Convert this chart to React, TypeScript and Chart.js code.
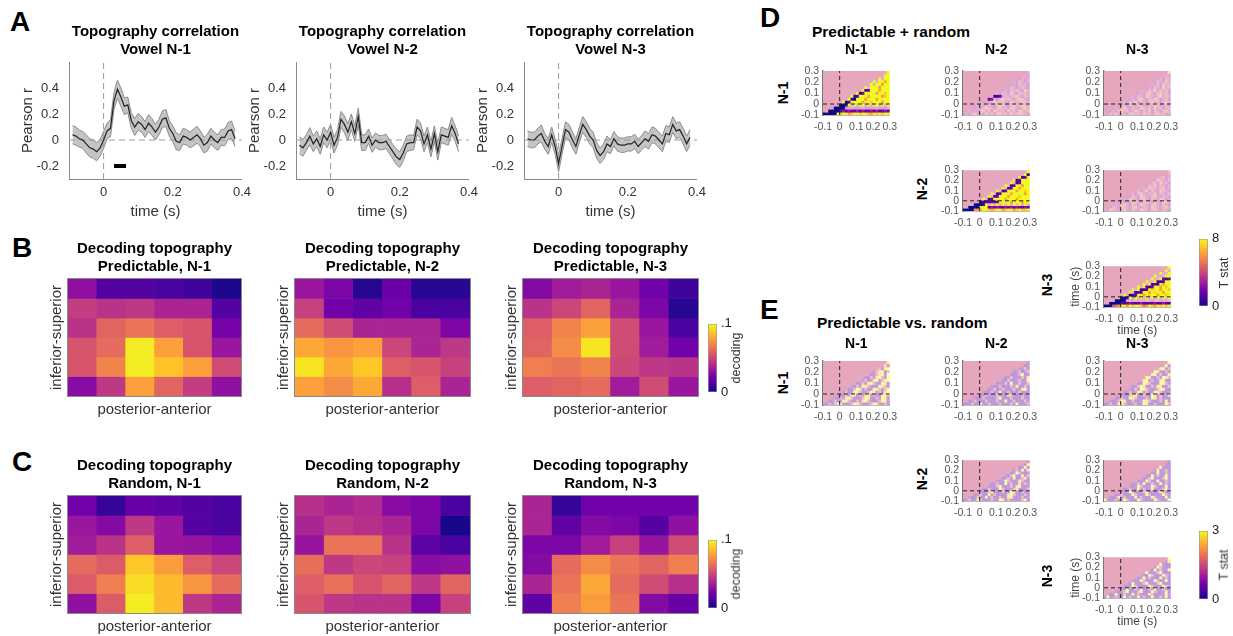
import React, { useEffect, useRef } from "react";
import { Chart, registerables } from "chart.js";

Chart.register(...registerables);

const FONT = "'Liberation Sans', Arial, Helvetica, sans-serif";
Chart.defaults.font.family = FONT;
Chart.defaults.color = "#333";

// ---------------- Panel A : topography correlation ----------------
const TIME = [
  -0.09, -0.08, -0.07, -0.06, -0.05, -0.04, -0.03, -0.02, -0.01, 0,
  0.01, 0.02, 0.03, 0.04, 0.05, 0.06, 0.07, 0.08, 0.09, 0.1,
  0.11, 0.12, 0.13, 0.14, 0.15, 0.16, 0.17, 0.18, 0.19, 0.2,
  0.21, 0.22, 0.23, 0.24, 0.25, 0.26, 0.27, 0.28, 0.29, 0.3,
  0.31, 0.32, 0.33, 0.34, 0.35, 0.36, 0.37, 0.38,
];
const R_N1 = [
  0.04, 0.03, 0.01, 0.0, -0.03, -0.06, -0.07, -0.09, -0.06, 0.0,
  0.07, 0.09, 0.3, 0.39, 0.33, 0.26, 0.27, 0.15, 0.1, 0.14,
  0.12, 0.08, 0.13, 0.1, 0.06, 0.1, 0.16, 0.17, 0.09, 0.05,
  -0.01, -0.02, 0.03, 0.02, 0.0, 0.02, 0.04, 0.01, -0.04, -0.02,
  0.03, 0.0, -0.02, 0.02, 0.02, 0.07, 0.08, 0.01,
];
const SEM_N1 = [
  0.07, 0.07, 0.065, 0.065, 0.07, 0.07, 0.07, 0.07, 0.065, 0.065,
  0.06, 0.065, 0.065, 0.07, 0.07, 0.065, 0.06, 0.06, 0.065, 0.065,
  0.06, 0.06, 0.065, 0.065, 0.06, 0.06, 0.065, 0.065, 0.06, 0.06,
  0.065, 0.06, 0.06, 0.06, 0.06, 0.065, 0.065, 0.06, 0.06, 0.065,
  0.06, 0.06, 0.06, 0.06, 0.065, 0.065, 0.065, 0.06,
];
const R_N2 = [
  -0.04, -0.06, -0.02, 0.03, -0.03, 0.01, -0.05, 0.04, 0.0, 0.06,
  -0.04, 0.02, 0.16, 0.12, 0.06, 0.14, 0.05, 0.18, -0.02, -0.02,
  0.03, -0.04, 0.0, -0.02, -0.02, -0.01, -0.05, -0.09, -0.13, -0.15,
  -0.1, -0.03, -0.02, -0.02, 0.1, 0.07, -0.03, 0.04, -0.07, 0.05,
  -0.09, 0.04, 0.03, 0.02, 0.11, 0.05, -0.03, null,
];
const SEM_N2 = [
  0.065, 0.065, 0.06, 0.065, 0.06, 0.06, 0.06, 0.06, 0.06, 0.06,
  0.06, 0.06, 0.06, 0.065, 0.065, 0.06, 0.06, 0.065, 0.06, 0.06,
  0.055, 0.055, 0.055, 0.055, 0.055, 0.055, 0.055, 0.055, 0.06, 0.06,
  0.06, 0.06, 0.06, 0.055, 0.06, 0.06, 0.06, 0.06, 0.06, 0.06,
  0.065, 0.06, 0.06, 0.06, 0.065, 0.06, 0.06, 0.06,
];
const R_N3 = [
  0.01, 0.0, 0.0, 0.03, 0.05, -0.01, -0.05, 0.04, -0.05, -0.18,
  -0.05, 0.08, 0.06, 0.0, -0.05, 0.04, 0.12, 0.08, 0.03, 0.0,
  -0.08, -0.12, -0.09, -0.03, -0.05, 0.01, -0.03, -0.04, -0.04, -0.03,
  -0.03, -0.01, -0.05, -0.02, 0.01, -0.01, 0.04, 0.03, 0.0, -0.03,
  0.05, 0.04, 0.12, 0.07, 0.08, 0.03, -0.03, 0.02,
];
const SEM_N3 = [
  0.06, 0.06, 0.06, 0.06, 0.065, 0.06, 0.06, 0.06, 0.06, 0.065,
  0.06, 0.06, 0.06, 0.06, 0.06, 0.06, 0.06, 0.06, 0.06, 0.06,
  0.06, 0.06, 0.06, 0.06, 0.055, 0.055, 0.055, 0.055, 0.055, 0.055,
  0.055, 0.055, 0.055, 0.055, 0.06, 0.06, 0.06, 0.06, 0.06, 0.06,
  0.06, 0.06, 0.06, 0.06, 0.06, 0.06, 0.06, 0.06,
];
const SIG_N1 = [0.03, 0.065]; // significance bar (s)
const SIG_LEVEL = -0.2;
const A_X_TICKS = [0, 0.2, 0.4];
const A_Y_TICKS = [-0.2, 0, 0.2, 0.4];

// ---------------- Panels B, C : decoding topography (6 x 6) ----------------
const DECODING_MAX = 0.1;
const B_N1 = [
  [0.03, 0.015, 0.015, 0.012, 0.01, 0.003],
  [0.047, 0.043, 0.045, 0.038, 0.038, 0.015],
  [0.043, 0.06, 0.065, 0.058, 0.055, 0.023],
  [0.055, 0.062, 0.097, 0.078, 0.055, 0.033],
  [0.055, 0.07, 0.097, 0.087, 0.078, 0.052],
  [0.028, 0.045, 0.078, 0.06, 0.047, 0.03],
];
const B_N2 = [
  [0.033, 0.025, 0.005, 0.02, 0.005, 0.005],
  [0.048, 0.022, 0.018, 0.022, 0.012, 0.012],
  [0.062, 0.052, 0.038, 0.038, 0.038, 0.025],
  [0.08, 0.075, 0.078, 0.05, 0.038, 0.045],
  [0.095, 0.08, 0.088, 0.058, 0.055, 0.048],
  [0.078, 0.072, 0.08, 0.042, 0.058, 0.038],
];
const B_N3 = [
  [0.027, 0.035, 0.038, 0.033, 0.022, 0.01],
  [0.043, 0.05, 0.06, 0.038, 0.025, 0.005],
  [0.058, 0.07, 0.078, 0.052, 0.033, 0.012],
  [0.06, 0.072, 0.095, 0.052, 0.035, 0.022],
  [0.068, 0.065, 0.07, 0.05, 0.045, 0.043],
  [0.058, 0.06, 0.062, 0.035, 0.052, 0.033],
];
const C_N1 = [
  [0.022, 0.008, 0.02, 0.018, 0.015, 0.012],
  [0.033, 0.027, 0.045, 0.033, 0.015, 0.012],
  [0.035, 0.043, 0.058, 0.033, 0.032, 0.028],
  [0.062, 0.057, 0.088, 0.077, 0.058, 0.05],
  [0.057, 0.068, 0.093, 0.085, 0.075, 0.062],
  [0.03, 0.057, 0.097, 0.085, 0.045, 0.038],
];
const C_N2 = [
  [0.042, 0.038, 0.04, 0.028, 0.025, 0.012],
  [0.038, 0.045, 0.042, 0.038, 0.025, 0.002],
  [0.032, 0.065, 0.065, 0.043, 0.017, 0.012],
  [0.063, 0.045, 0.05, 0.048, 0.028, 0.03],
  [0.058, 0.064, 0.055, 0.06, 0.045, 0.06],
  [0.055, 0.045, 0.043, 0.043, 0.025, 0.048],
];
const C_N3 = [
  [0.038, 0.008, 0.022, 0.022, 0.022, 0.022],
  [0.038, 0.018, 0.027, 0.025, 0.015, 0.03],
  [0.025, 0.025, 0.035, 0.048, 0.032, 0.052],
  [0.027, 0.062, 0.072, 0.065, 0.06, 0.068],
  [0.038, 0.065, 0.08, 0.062, 0.052, 0.042],
  [0.018, 0.068, 0.077, 0.065, 0.027, 0.02],
];

// ---------------- Panels D, E : time x time T-stat matrices (24 x 15 bins) ----------------
// '.' = masked, '0'-'9' = significant T level (x T_MAX/9), 'a'-'j' = non-significant T level
const D_T_MAX = 8;
const E_T_MAX = 3;
const MAT_RANGE = [-0.1, 0.3];
const MAT_TICKS = [-0.1, 0, 0.1, 0.2, 0.3];

const D_N1_N1 = [
  ".......................9",
  "......................99",
  "....................9e99",
  "..................9e9979",
  ".................9e99799",
  "...............9e9997999",
  "..............9129997999",
  "............912999979989",
  "..........91199979999789",
  ".........910999799979999",
  ".......90199997998999799",
  "......0019e9e99e9e99e9e9",
  "....0000ddedddeddddeddde",
  "..0000232322323223232232",
  "000009899789989987989899",
];
const D_N1_N2 = [
  ".......................e",
  "......................ed",
  "....................dede",
  "..................edfede",
  ".................dedfeed",
  "...............edfedefed",
  "..............dedfefedge",
  "............edfedgedfefd",
  "..........e112dfeefgedfe",
  ".........23edfgefedfgfed",
  ".......dedfgeffedgfefgfe",
  "......edfeedfgfedfgefgfe",
  "....dedfgfedfgefdgfedfge",
  "..ededfgefdgfefdgefdgfef",
  "dedfgefdgefdfgefdgefgfed",
];
const D_N1_N3 = [
  ".......................h",
  "......................ed",
  "....................edfe",
  "..................dfedge",
  ".................edfdgef",
  "...............dedfedgef",
  "..............edfegdfefd",
  "............dedfgedfgefd",
  "..........edfedgfedfgefe",
  ".........dedfgedfegfdefd",
  ".......edfegdfedfgefdfge",
  "......dedfedgfedfegfdefd",
  "....edfgedfedgfefdgefdef",
  "..dedfgefdegfdfegdfedfge",
  "edfegdfedgfefdgefdfgefde",
];
const D_N2_N2 = [
  ".......................9",
  "......................91",
  "....................9129",
  "..................912999",
  ".................9e12999",
  "...............9e1299799",
  "..............9e12997999",
  "............9e1299979989",
  "..........9e129997999979",
  ".........9e1299979998999",
  ".......9e129999799979999",
  "......012222299997999799",
  "....00019d9e9d9e9d9e9d9e",
  "..0000999232322323232232",
  "000077899878997899789889",
];
const D_N2_N3 = [
  ".......................f",
  "......................de",
  "....................efde",
  "..................dgfedf",
  ".................efdgefd",
  "...............dfegdfede",
  "..............edgfedfgde",
  "............fdegdfedgfed",
  "..........edfgedfegdfedf",
  ".........dfedgfedfgedfed",
  ".......edgfedfgedfedgfde",
  "......fdedgfedfgedfedgfe",
  "....edfgedfedgfedfgedfed",
  "..dfedgfedfgedfedgfedfge",
  "edgfedfgedfedgfedfgedfed",
];
const D_N3_N3 = [
  ".......................9",
  "......................9e",
  "....................9ee9",
  "..................9ede99",
  ".................9ee9212",
  "...............9ee911299",
  "..............9e91219799",
  "............9e9212997989",
  "..........9e911298997998",
  ".........9e1219979899799",
  ".......9e012997989979989",
  "......0019e9f9e9e9d9e9f9",
  "....0000dedfdedfedefdedf",
  "..0000212321232122312321",
  "000567997989986798798989",
];
const E_N1_N1 = [
  ".......................i",
  "......................ic",
  "....................fcij",
  "..................cfijcf",
  ".................bcfijcj",
  "...............cbfcijfcj",
  "..............cfbcijcfij",
  "............bcfcijfcbjic",
  "..........cbfcjifcbcjifc",
  ".........bcfjicfbcjifcfj",
  ".......cfbcjifcbfjicfbij",
  "......bcfcjibfcijcfbcjif",
  "....cbfcijfcbcfjicbfcjic",
  "..bcfbcjifcbfcijfcbcfjic",
  "cbfcfijcbcfjifcbcfjicbfc",
];
const E_N1_N2 = [
  ".......................c",
  "......................bc",
  "....................cbfc",
  "..................bcfbcf",
  ".................cbcfjbc",
  "...............bcfbcbfci",
  "..............cbfcbcfbcj",
  "............bcbfcjbcfbcf",
  "..........cbcfbcbfcjcbfc",
  ".........bcfbcfcbcfbcijc",
  ".......cbcfbcjbcfbcbfcbc",
  "......bcfcbcfbcbifcbcfbc",
  "....cbcfbcbcfjcbcfbcbfcb",
  "..bcfbcbfcbcfbcjbcfbcbfc",
  "cbcfbcjcbfcbcfbcbfcjcbcf",
];
const E_N1_N3 = [
  ".......................j",
  "......................jc",
  "....................ijcf",
  "..................jicbfc",
  ".................ijcfbci",
  "...............jicbfcjif",
  "..............ijcfbcijcb",
  "............cbjifcbcjifc",
  "..........bcfjicbfcjicbf",
  ".........cbfcjifcbcfjicb",
  ".......bcfbcjicfbcjifcbc",
  "......cbcfijcbfcbjicfbcj",
  "....bcfcbjifcbcfbjicfcbc",
  "..cbcfjicbfcbcjifcbcfbjc",
  "bcfbcjifcbcfbcjicbfcbcjf",
];
const E_N2_N2 = [
  ".......................c",
  "......................cj",
  "....................bcjc",
  "..................cfbjci",
  ".................bcjfcbc",
  "...............cbfjcbicf",
  "..............bcfcjbcfic",
  "............cbcjfcbcifcb",
  "..........bcfcbjcfbcicfc",
  ".........cbcfjcbcfbijcbc",
  ".......bcfcbcjfcbcficbcf",
  "......cbcfjcbcfbcjicbfcb",
  "....bcfbcjcfbcbcijfcbcfc",
  "..cbcfcbjcfbcfbcijcbcfbc",
  "bcfbcjfcbcfcbjicfbcbcfjc",
];
const E_N2_N3 = [
  ".......................b",
  "......................cb",
  "....................jcbc",
  "..................cjbcfc",
  ".................bcjcbfc",
  "...............cbjcfbcjc",
  "..............bcfjcbcfjc",
  "............cbcjfbcjcbfc",
  "..........bcfcjbcfcbjcfc",
  ".........cbcjfcbcjfcbcjb",
  ".......bcfcbjcfbcjcbcfjc",
  "......cbcjfcbcfjbcbcjfcb",
  "....bcfcbcjfcbcjfbcbcjfc",
  "..cbcjcfbcbjcfcbcjfbcbjc",
  "jcbcfbcjfcbcjfcbcbjfcbcj",
];
const E_N3_N3 = [
  ".......................j",
  "......................ci",
  "....................jcbc",
  "..................cjfcbc",
  ".................bjcfcbj",
  "...............jcbcfjcbc",
  "..............cbjfcbcjfc",
  "............bcjcfbcbjcfb",
  "..........cbcjfcbcjfbcjc",
  ".........bjcbcfjcbcfjcbc",
  ".......cbcjfbcbcjfcbcjfc",
  "......bcjcbfcjbcfcjbcfcb",
  "....cbcfjcbcfjcbcjfcbcjc",
  "..bcjcbfcbjcfcbcjfbcbcjc",
  "cjbcfcbjcfbcjcfbcjcbfcjc",
];

// ---------------- colour map ----------------
const PLASMA = ["#0d0887", "#46039f", "#7201a8", "#9c179e", "#bd3786", "#d8576b", "#ed7953", "#fb9f3a", "#fdca26", "#f0f921"];
const hex = (h: string) => [1, 3, 5].map((i) => parseInt(h.slice(i, i + 2), 16));
const PLASMA_RGB = PLASMA.map(hex);
function plasmaRgb(t: number) {
  const v = Math.max(0, Math.min(1, t)) * (PLASMA_RGB.length - 1);
  const i = Math.min(Math.floor(v), PLASMA_RGB.length - 2);
  const f = v - i;
  return PLASMA_RGB[i].map((c, k) => c + (PLASMA_RGB[i + 1][k] - c) * f);
}
const rgb = (c: number[]) => `rgb(${c.map((x) => Math.round(x)).join(",")})`;
const plasma = (t: number) => rgb(plasmaRgb(t));
const fade = (t: number, a: number) => rgb(plasmaRgb(t).map((c) => c + (255 - c) * a));
const MASK_COLOR = fade(0.5, 0.52);
const NONSIG_FADE = 0.6;
function cellColor(ch: string) {
  if (ch === ".") return MASK_COLOR;
  const d = "0123456789".indexOf(ch);
  if (d >= 0) return plasma(d / 9);
  const l = "abcdefghij".indexOf(ch);
  return fade(l / 9, NONSIG_FADE);
}

// ---------------- helpers ----------------
const setTicks = (vals: number[]) => (axis: any) => {
  axis.ticks = vals.map((v) => ({ value: v }));
};
const fmt = (v: any) => (Math.abs(v) < 1e-9 ? "0" : String(Math.round(v * 100) / 100));

const framePlugin = (color: string) => ({
  id: "frame",
  afterDatasetsDraw(chart: any) {
    const { ctx, chartArea: a } = chart;
    ctx.save();
    ctx.strokeStyle = color;
    ctx.lineWidth = 1;
    ctx.strokeRect(Math.round(a.left) - 0.5, Math.round(a.top) - 0.5, Math.round(a.right - a.left) + 1, Math.round(a.bottom - a.top) + 1);
    ctx.restore();
  },
});

type Box = { left: number; top: number; width: number; height: number };

function ChartCanvas({ box, make }: { box: Box; make: () => any }) {
  const ref = useRef<HTMLCanvasElement | null>(null);
  useEffect(() => {
    if (!ref.current) return;
    const chart = new Chart(ref.current, make());
    return () => chart.destroy();
  }, []);
  return (
    <canvas
      ref={ref}
      width={box.width}
      height={box.height}
      style={{ position: "absolute", left: box.left, top: box.top, width: box.width, height: box.height }}
    />
  );
}

const baseOpts = (padRight: number, padTop = 0) => ({
  responsive: false,
  animation: false,
  events: [],
  layout: { padding: { left: 0, right: padRight, top: padTop, bottom: 0 } },
});

// ---------------- Panel A chart ----------------
function LineChart({ plotLeft, title, mean, sem, sig }: any) {
  const yAxisW = 50, xAxisH = 42, titleH = 39, padR = 14, plotW = 174, plotH = 117;
  const box = { left: plotLeft - yAxisW, top: 23, width: yAxisW + plotW + padR, height: titleH + plotH + xAxisH };
  const make = () => {
    const pts = (k: number) => TIME.map((t, i) => ({ x: t, y: mean[i] == null ? null : mean[i] + k * sem[i] }));
    return {
      type: "scatter",
      data: {
        datasets: [
          { data: pts(0), borderColor: "#222", borderWidth: 1.2, pointRadius: 0, showLine: true, order: 0 },
          {
            data: sig ? [{ x: sig[0], y: SIG_LEVEL }, { x: sig[1], y: SIG_LEVEL }] : [],
            borderColor: "#000", borderWidth: 4, pointRadius: 0, showLine: true, order: 0, borderCapStyle: "butt",
          },
          { data: [{ x: -0.1, y: 0 }, { x: 0.4, y: 0 }], borderColor: "#9a9a9a", borderDash: [6, 4], borderWidth: 1, pointRadius: 0, showLine: true, order: 1 },
          { data: [{ x: 0, y: -0.3 }, { x: 0, y: 0.6 }], borderColor: "#9a9a9a", borderDash: [6, 4], borderWidth: 1, pointRadius: 0, showLine: true, order: 1 },
          { data: pts(1), borderColor: "#8c8c8c", borderWidth: 1, backgroundColor: "#c4c4c4", fill: "+1", pointRadius: 0, showLine: true, order: 3 },
          { data: pts(-1), borderColor: "#8c8c8c", borderWidth: 1, fill: false, pointRadius: 0, showLine: true, order: 2 },
        ],
      },
      options: {
        ...baseOpts(padR),
        plugins: {
          legend: { display: false },
          tooltip: { enabled: false },
          title: { display: true, text: title, font: { size: 15, weight: "bold" }, color: "#000", padding: { top: 0, bottom: 3 }, fullSize: false },
        },
        scales: {
          x: {
            type: "linear", min: -0.1, max: 0.4, offset: false,
            afterBuildTicks: setTicks(A_X_TICKS),
            afterFit: (s: any) => { s.height = xAxisH; },
            grid: { display: false, drawTicks: false },
            border: { color: "#8a8a8a" },
            ticks: { padding: 6, font: { size: 13 }, color: "#333", callback: fmt, maxRotation: 0 },
            title: { display: true, text: "time (s)", font: { size: 15 }, color: "#333", padding: 0 },
          },
          y: {
            type: "linear", min: -0.3, max: 0.6,
            afterBuildTicks: setTicks(A_Y_TICKS),
            afterFit: (s: any) => { s.width = yAxisW; },
            grid: { display: false, drawTicks: false },
            border: { color: "#8a8a8a" },
            ticks: { padding: 10, font: { size: 13 }, color: "#333", callback: fmt },
            title: { display: true, text: "Pearson r", font: { size: 15 }, color: "#333", padding: 0 },
          },
        },
      },
    };
  };
  return <ChartCanvas box={box} make={make} />;
}

// ---------------- Panels B/C heatmap ----------------
function HeatChart({ plotLeft, plotW, top, title, grid }: any) {
  const yAxisW = 20, xAxisH = 23, titleH = 39, padR = 2, plotH = 117;
  const box = { left: plotLeft - yAxisW, top, width: yAxisW + plotW + padR, height: titleH + plotH + xAxisH };
  const make = () => {
    const nR = grid.length, nC = grid[0].length;
    const datasets = grid.map((row: number[], i: number) => ({
      data: row.map((v, c) => ({ x: c + 1, y: [nR - i - 0.5, nR - i + 0.5] })),
      backgroundColor: row.map((v) => plasma(v / DECODING_MAX)),
      borderWidth: 0, grouped: false, barPercentage: 1, categoryPercentage: 1,
    }));
    return {
      type: "bar",
      data: { datasets },
      plugins: [framePlugin("#8a8a8a")],
      options: {
        ...baseOpts(padR),
        plugins: {
          legend: { display: false },
          tooltip: { enabled: false },
          title: { display: true, text: title, font: { size: 15, weight: "bold" }, color: "#000", padding: { top: 0, bottom: 3 }, fullSize: false },
        },
        scales: {
          x: {
            type: "linear", min: 0.5, max: nC + 0.5, offset: false,
            afterBuildTicks: setTicks([]),
            afterFit: (s: any) => { s.height = xAxisH; },
            grid: { display: false, drawTicks: false, offset: false },
            border: { display: false },
            ticks: { display: false },
            title: { display: true, text: "posterior-anterior", font: { size: 15 }, color: "#333", padding: 0 },
          },
          y: {
            type: "linear", min: 0.5, max: nR + 0.5,
            afterBuildTicks: setTicks([]),
            afterFit: (s: any) => { s.width = yAxisW; },
            grid: { display: false, drawTicks: false },
            border: { display: false },
            ticks: { display: false },
            title: { display: true, text: "inferior-superior", font: { size: 15 }, color: "#333", padding: 0 },
          },
        },
      },
    };
  };
  return <ChartCanvas box={box} make={make} />;
}

// ---------------- colour bar ----------------
function ColorBar({ left, top, height, max, labels }: any) {
  const w = 9, axisW = 22, pad = 8;
  const box = { left, top: top - pad, width: w + axisW, height: height + 2 * pad };
  const make = () => ({
    type: "bar",
    data: {
      datasets: [
        {
          data: [{ x: 0, y: [0, max] }],
          backgroundColor: (ctx: any) => {
            const a = ctx.chart.chartArea;
            if (!a) return PLASMA[4];
            const g = ctx.chart.ctx.createLinearGradient(0, a.bottom, 0, a.top);
            PLASMA.forEach((c, i) => g.addColorStop(i / (PLASMA.length - 1), c));
            return g;
          },
          borderColor: "#9a9a9a", borderWidth: 1, borderSkipped: false,
          barPercentage: 1, categoryPercentage: 1,
        },
      ],
    },
    options: {
      responsive: false, animation: false, events: [],
      layout: { padding: { left: 0, right: 0, top: pad, bottom: pad } },
      plugins: { legend: { display: false }, tooltip: { enabled: false } },
      scales: {
        x: { type: "linear", min: -0.5, max: 0.5, display: false, offset: false },
        y: {
          type: "linear", position: "right", min: 0, max,
          afterBuildTicks: setTicks([0, max]),
          afterFit: (s: any) => { s.width = axisW; },
          grid: { display: false, drawTicks: false },
          border: { display: false },
          ticks: { padding: 4, font: { size: 13 }, color: "#222", callback: (v: any) => (v === 0 ? labels[0] : labels[1]) },
        },
      },
    },
  });
  return <ChartCanvas box={box} make={make} />;
}

// ---------------- Panels D/E small matrices ----------------
const MAT_W = 70, MAT_H = 44;
function MatrixChart({ plotLeft, plotTop, rows, title, titleGap, axisTitles }: any) {
  const yAxisW = axisTitles ? 36 : 28;
  const xAxisH = axisTitles ? 31 : 20;
  const titleH = title ? 16.8 + titleGap : 0;
  const padTop = title ? 0 : 7;
  const padR = 10;
  const box = { left: plotLeft - yAxisW, top: Math.round(plotTop - titleH - padTop), width: yAxisW + MAT_W + padR, height: Math.round(padTop + titleH + MAT_H + xAxisH) };
  const make = () => {
    const nR = rows.length, nC = rows[0].length;
    const [lo, hi] = MAT_RANGE;
    const dx = (hi - lo) / nC, dy = (hi - lo) / nR;
    const datasets: any[] = rows.map((str: string, i: number) => {
      const chars = Array.from(str);
      return {
        type: "bar",
        data: chars.map((ch, c) => ({ x: lo + (c + 0.5) * dx, y: [hi - (i + 1) * dy, hi - i * dy] })),
        backgroundColor: chars.map(cellColor),
        borderWidth: 0, grouped: false, barPercentage: 1, categoryPercentage: 1, order: 5,
      };
    });
    datasets.push({ type: "line", data: [{ x: 0, y: lo }, { x: 0, y: hi }], borderColor: "#222", borderWidth: 1, borderDash: [4, 3], pointRadius: 0, order: 0 });
    datasets.push({ type: "line", data: [{ x: lo, y: 0 }, { x: hi, y: 0 }], borderColor: "#222", borderWidth: 1, borderDash: [4, 3], pointRadius: 0, order: 0 });
    const tickFont = { size: 10.5 };
    return {
      type: "bar",
      data: { datasets },
      options: {
        ...baseOpts(padR, padTop),
        plugins: {
          legend: { display: false },
          tooltip: { enabled: false },
          title: title
            ? { display: true, text: title, font: { size: 14, weight: "bold" }, color: "#000", padding: { top: 0, bottom: titleGap }, fullSize: false }
            : { display: false },
        },
        scales: {
          x: {
            type: "linear", min: lo, max: hi, offset: false,
            afterBuildTicks: setTicks(MAT_TICKS),
            afterFit: (s: any) => { s.height = xAxisH; },
            grid: { display: false, drawTicks: false, offset: false },
            border: { color: "#777", width: 1.5 },
            ticks: { padding: 6, font: tickFont, color: "#555", callback: fmt, maxRotation: 0, autoSkip: false },
            title: { display: !!axisTitles, text: "time (s)", font: { size: 12 }, color: "#444", padding: 0 },
          },
          y: {
            type: "linear", min: lo, max: hi,
            afterBuildTicks: setTicks(MAT_TICKS),
            afterFit: (s: any) => { s.width = yAxisW; },
            grid: { display: false, drawTicks: false },
            border: { color: "#777", width: 1.5 },
            ticks: { padding: 4, font: tickFont, color: "#555", callback: fmt, autoSkip: false },
            title: { display: !!axisTitles, text: "time (s)", font: { size: 12 }, color: "#444", padding: 0 },
          },
        },
      },
    };
  };
  return <ChartCanvas box={box} make={make} />;
}

// ---------------- HTML labels ----------------
const Letter = ({ x, y, t }: any) => (
  <div style={{ position: "absolute", left: x, top: y, fontSize: 28, fontWeight: "bold", lineHeight: "28px", color: "#000" }}>{t}</div>
);
const Rot = ({ x, y, t, size, bold }: any) => (
  <div
    style={{
      position: "absolute", left: x, top: y, transform: "translate(-50%, -50%) rotate(-90deg)",
      whiteSpace: "nowrap", fontSize: size, fontWeight: bold ? "bold" : "normal", lineHeight: 1, color: bold ? "#000" : "#333",
    }}
  >
    {t}
  </div>
);
const Head = ({ x, y, t }: any) => (
  <div style={{ position: "absolute", left: x, top: y, transform: "translateY(-50%)", whiteSpace: "nowrap", fontSize: 15.5, fontWeight: "bold", color: "#000" }}>{t}</div>
);

const MAT_COLS = [823, 963, 1104];
const D_TOPS = [71, 167, 263];
const E_TOPS = [361, 457, 554];

export default function App() {
  const D = [
    { r: 0, c: 0, rows: D_N1_N1, title: "N-1" },
    { r: 0, c: 1, rows: D_N1_N2, title: "N-2" },
    { r: 0, c: 2, rows: D_N1_N3, title: "N-3" },
    { r: 1, c: 1, rows: D_N2_N2 },
    { r: 1, c: 2, rows: D_N2_N3 },
    { r: 2, c: 2, rows: D_N3_N3, axisTitles: true },
  ];
  const E = [
    { r: 0, c: 0, rows: E_N1_N1, title: "N-1" },
    { r: 0, c: 1, rows: E_N1_N2, title: "N-2" },
    { r: 0, c: 2, rows: E_N1_N3, title: "N-3" },
    { r: 1, c: 1, rows: E_N2_N2 },
    { r: 1, c: 2, rows: E_N2_N3 },
    { r: 2, c: 2, rows: E_N3_N3, axisTitles: true },
  ];
  return (
    <div style={{ position: "absolute", left: 0, top: 0, width: 1233, height: 636, overflow: "hidden", background: "#fff", fontFamily: FONT }}>
      <Letter x={10} y={8} t="A" />
      <Letter x={12} y={234} t="B" />
      <Letter x={12} y={448} t="C" />
      <Letter x={760} y={4} t="D" />
      <Letter x={760} y={296} t="E" />

      <LineChart plotLeft={69} title={["Topography correlation", "Vowel N-1"]} mean={R_N1} sem={SEM_N1} sig={SIG_N1} />
      <LineChart plotLeft={296} title={["Topography correlation", "Vowel N-2"]} mean={R_N2} sem={SEM_N2} sig={null} />
      <LineChart plotLeft={524} title={["Topography correlation", "Vowel N-3"]} mean={R_N3} sem={SEM_N3} sig={null} />

      <HeatChart plotLeft={68} plotW={173} top={240} title={["Decoding topography", "Predictable, N-1"]} grid={B_N1} />
      <HeatChart plotLeft={295} plotW={175} top={240} title={["Decoding topography", "Predictable, N-2"]} grid={B_N2} />
      <HeatChart plotLeft={523} plotW={175} top={240} title={["Decoding topography", "Predictable, N-3"]} grid={B_N3} />
      <ColorBar left={708} top={320} height={76} max={DECODING_MAX} labels={["0", ".1"]} />
      <Rot x={736} y={358} t="decoding" size={12.5} />

      <HeatChart plotLeft={68} plotW={173} top={457} title={["Decoding topography", "Random, N-1"]} grid={C_N1} />
      <HeatChart plotLeft={295} plotW={175} top={457} title={["Decoding topography", "Random, N-2"]} grid={C_N2} />
      <HeatChart plotLeft={523} plotW={175} top={457} title={["Decoding topography", "Random, N-3"]} grid={C_N3} />
      <ColorBar left={708} top={536} height={76} max={DECODING_MAX} labels={["0", ".1"]} />
      <Rot x={736} y={574} t="decoding" size={12.5} />

      <Head x={812} y={32} t="Predictable + random" />
      {D.map((m, k) => (
        <MatrixChart key={"d" + k} plotLeft={MAT_COLS[m.c]} plotTop={D_TOPS[m.r]} rows={m.rows} title={m.title} titleGap={12.2} axisTitles={m.axisTitles} />
      ))}
      <Rot x={783} y={93} t="N-1" size={14} bold />
      <Rot x={922} y={189} t="N-2" size={14} bold />
      <Rot x={1047} y={285} t="N-3" size={14} bold />
      <ColorBar left={1199} top={235} height={75} max={D_T_MAX} labels={["0", "8"]} />
      <Rot x={1224} y={273} t="T stat" size={12.5} />

      <Head x={817} y={323} t="Predictable vs. random" />
      {E.map((m, k) => (
        <MatrixChart key={"e" + k} plotLeft={MAT_COLS[m.c]} plotTop={E_TOPS[m.r]} rows={m.rows} title={m.title} titleGap={8.2} axisTitles={m.axisTitles} />
      ))}
      <Rot x={783} y={383} t="N-1" size={14} bold />
      <Rot x={922} y={479} t="N-2" size={14} bold />
      <Rot x={1047} y={576} t="N-3" size={14} bold />
      <ColorBar left={1199} top={527} height={76} max={E_T_MAX} labels={["0", "3"]} />
      <Rot x={1224} y={565} t="T stat" size={12.5} />
    </div>
  );
}
